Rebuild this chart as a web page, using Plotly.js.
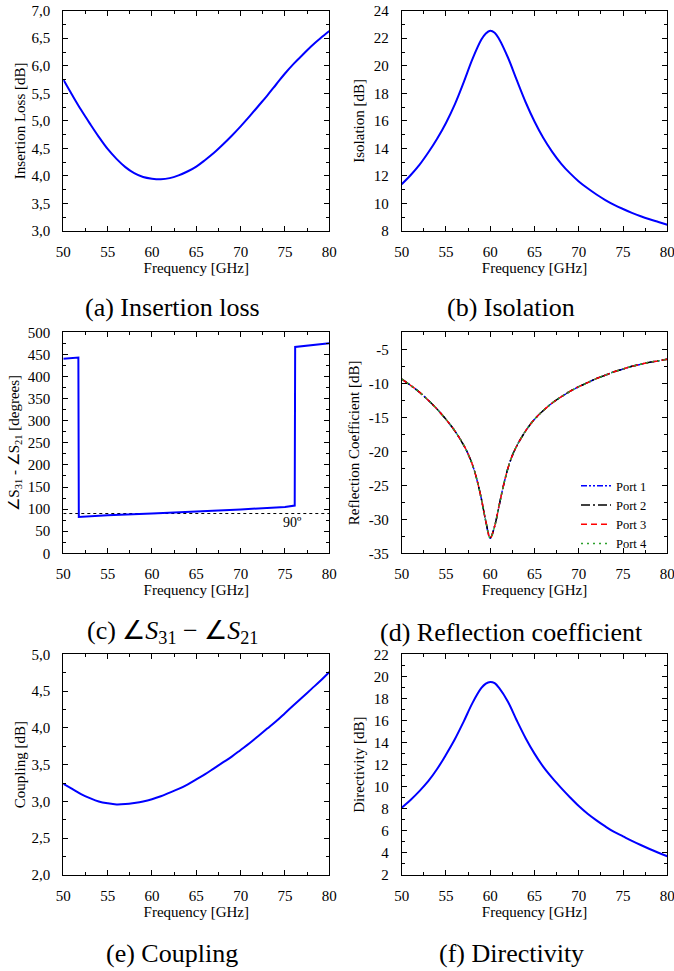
<!DOCTYPE html>
<html>
<head>
<meta charset="utf-8">
<script src="https://cdn.plot.ly/plotly-3.0.1.min.js"></script>
<style>html,body{margin:0;padding:0;background:#fff;}#chart{width:674px;height:971px;}</style>
</head>
<body>
<div id="chart"></div>
<script>
// ---------- data ----------
const freq = [50,51,52,53,54,55,56,57,58,59,60,61,62,63,64,65,66,67,68,69,70,71,72,73,74,75,76,77,78,79,80];
const peakFreq = [50,51,52,53,54,55,56,57,58,59,59.5,60,60.5,61,62,63,64,65,66,67,68,69,70,71,72,73,74,75,76,77,78,79,80];

const insertionLoss = [5.75,5.47,5.20,4.95,4.71,4.49,4.31,4.16,4.05,3.98,3.95,3.94,3.96,4.01,4.08,4.17,4.29,4.42,4.57,4.73,4.90,5.08,5.27,5.46,5.66,5.86,6.04,6.20,6.36,6.50,6.63];

const isolation = [11.4,12.05,12.8,13.7,14.7,15.85,17.2,18.8,20.5,21.9,22.35,22.55,22.4,21.95,20.6,18.95,17.35,15.95,14.75,13.75,12.9,12.2,11.6,11.1,10.65,10.25,9.9,9.6,9.32,9.07,8.85,8.65,8.45];

const angleFreq = [50,51.7,51.75,55,60,65,70,75,76.1,76.15,80];
const angleDiff = [440,443,82,86,90,94,99,105,108,467,475];
const refLineFreq = [50,80];
const refLineDeg = [90,90];

const reflFreq = [50,51,52,53,54,55,56,57,57.5,58,58.5,59,59.5,60,60.5,61,61.5,62,62.5,63,64,65,66,67,68,69,70,71,72,73,74,75,76,77,78,79,80];
const port1 = [-9.4,-10.3,-11.3,-12.5,-13.8,-15.3,-17.0,-19.1,-20.4,-22.0,-24.2,-27.0,-30.3,-32.8,-31.0,-28.0,-25.0,-22.5,-20.6,-19.2,-17.0,-15.3,-14.0,-12.9,-12.0,-11.2,-10.5,-9.9,-9.3,-8.8,-8.3,-7.9,-7.5,-7.2,-6.9,-6.7,-6.45];
const port2 = [-9.4,-10.3,-11.3,-12.5,-13.8,-15.3,-17.0,-19.1,-20.4,-22.0,-24.2,-27.0,-30.3,-32.7,-31.0,-28.0,-25.0,-22.5,-20.6,-19.2,-17.0,-15.3,-14.0,-12.9,-12.0,-11.2,-10.5,-9.9,-9.3,-8.8,-8.3,-7.9,-7.5,-7.2,-6.9,-6.7,-6.45];
const port3 = [-9.4,-10.3,-11.3,-12.5,-13.8,-15.3,-17.0,-19.1,-20.4,-22.0,-24.2,-27.0,-30.3,-32.8,-31.0,-28.0,-25.0,-22.5,-20.6,-19.2,-17.0,-15.3,-14.0,-12.9,-12.0,-11.2,-10.5,-9.9,-9.3,-8.8,-8.3,-7.9,-7.5,-7.2,-6.9,-6.7,-6.45];
const port4 = [-9.4,-10.3,-11.3,-12.5,-13.8,-15.3,-17.0,-19.1,-20.4,-22.0,-24.2,-27.0,-30.3,-32.8,-31.0,-28.0,-25.0,-22.5,-20.6,-19.2,-17.0,-15.3,-14.0,-12.9,-12.0,-11.2,-10.5,-9.9,-9.3,-8.8,-8.3,-7.9,-7.5,-7.2,-6.9,-6.7,-6.45];
const reflTickVals = [-35,-30,-25,-20,-15,-10,-5];
const reflTickText = ['-35','-30','-25','-20','-15','-10','-5'];

const coupling = [3.24,3.17,3.10,3.045,3.00,2.975,2.96,2.965,2.98,3.00,3.03,3.07,3.12,3.17,3.23,3.30,3.37,3.45,3.53,3.61,3.70,3.79,3.89,3.99,4.09,4.20,4.31,4.42,4.53,4.64,4.76];

const directivity = [8.1,8.8,9.6,10.5,11.6,12.9,14.3,15.9,17.6,18.95,19.35,19.5,19.38,18.95,17.7,16.0,14.4,13.0,11.8,10.8,9.9,9.05,8.25,7.55,6.95,6.4,5.9,5.5,5.1,4.72,4.36,4.02,3.7];

const captions = ['(a) Insertion loss','(b) Isolation','(c) ∠<i>S</i><sub>31</sub> − ∠<i>S</i><sub>21</sub>','(d) Reflection coefficient','(e) Coupling','(f) Directivity'];

// ---------- styling ----------
const FONT = 'Liberation Serif';
const W = 674, H = 971;
const colL = [63.3/W, 329.3/W], colR = [401.7/W, 667.3/W];
const rowA = [1-231/H, 1-10.7/H], rowC = [1-553.3/H, 1-332.3/H], rowE = [1-875/H, 1-654.3/H];
const blue = {color:'#0000ff', width:2, shape:'spline', smoothing:1};

function xax(domain, anchor){
  return {domain, anchor, range:[50,80], tick0:50, dtick:5, ticks:'inside', ticklen:5, tickwidth:1, tickcolor:'#000',
    showline:true, linecolor:'#000', linewidth:1, mirror:'ticks', showgrid:false, zeroline:false,
    minor:{ticks:'inside', ticklen:3, tick0:50, dtick:2.5, tickcolor:'#000', showgrid:false},
    ticklabelstandoff:7, ticklabeloverflow:'allow',
    tickfont:{family:FONT, size:15, color:'#000'},
    title:{text:'Frequency [GHz]', font:{family:FONT, size:15, color:'#000'}, standoff:0}};
}
function yax(domain, anchor, range, dtick, mdtick, title, fmt, standoff){
  return {domain, anchor, range, tick0:range[0], dtick, ticks:'inside', ticklen:5, tickwidth:1, tickcolor:'#000',
    showline:true, linecolor:'#000', linewidth:1, mirror:'ticks', showgrid:false, zeroline:false,
    minor:{ticks:'inside', ticklen:3, tick0:range[0], dtick:mdtick, tickcolor:'#000', showgrid:false},
    ticklabelstandoff:9, ticklabeloverflow:'allow',
    tickformat:fmt, tickfont:{family:FONT, size:15, color:'#000'},
    title:{text:title, font:{family:FONT, size:15, color:'#000'}, standoff:standoff}};
}

const traces = [
  {x:freq, y:insertionLoss, xaxis:'x', yaxis:'y', mode:'lines', line:blue, showlegend:false},
  {x:peakFreq, y:isolation, xaxis:'x2', yaxis:'y2', mode:'lines', line:blue, showlegend:false},
  {x:refLineFreq, y:refLineDeg, xaxis:'x3', yaxis:'y3', mode:'lines', line:{color:'#000', width:1, dash:'3px,3px'}, showlegend:false},
  {x:angleFreq, y:angleDiff, xaxis:'x3', yaxis:'y3', mode:'lines', line:{color:'#0000ff', width:2}, showlegend:false},
  {x:reflFreq, y:port1, xaxis:'x4', yaxis:'y4', mode:'lines', name:'Port 1', line:{color:'#0000ff', width:1.5, dash:'6px,2px,2px,2px,2px,2px', shape:'spline'}},
  {x:reflFreq, y:port2, xaxis:'x4', yaxis:'y4', mode:'lines', name:'Port 2', line:{color:'#000000', width:1.5, dash:'9px,3px,2px,3px', shape:'spline'}},
  {x:reflFreq, y:port3, xaxis:'x4', yaxis:'y4', mode:'lines', name:'Port 3', line:{color:'#ff0000', width:1.5, dash:'6px,4px', shape:'spline'}},
  {x:reflFreq, y:port4, xaxis:'x4', yaxis:'y4', mode:'lines', name:'Port 4', line:{color:'#2ca02c', width:1.5, dash:'2px,4px', shape:'spline'}},
  {x:freq, y:coupling, xaxis:'x5', yaxis:'y5', mode:'lines', line:blue, showlegend:false},
  {x:peakFreq, y:directivity, xaxis:'x6', yaxis:'y6', mode:'lines', line:blue, showlegend:false}
];

const y4 = yax(rowC,'x4',[-35,-2.5],5,2.5,'Reflection Coefficient [dB]',null,5);
y4.tickmode = 'array'; y4.tickvals = reflTickVals; y4.ticktext = reflTickText;

const capFont = {family:FONT, size:26, color:'#000'};
function cap(i, x, y){ return {xref:'paper', yref:'paper', x:x/W, y:1-y/H, xanchor:'center', yanchor:'middle', text:captions[i], showarrow:false, font:capFont}; }
const layout = {
  width:W, height:H, autosize:false, margin:{l:0,r:0,t:0,b:0},
  paper_bgcolor:'#fff', plot_bgcolor:'#fff', separators:', ',
  font:{family:FONT, color:'#000'},
  xaxis:xax(colL,'y'), yaxis:yax(rowA,'x',[3,7],0.5,0.25,'Insertion Loss [dB]','.1f',2),
  xaxis2:xax(colR,'y2'), yaxis2:yax(rowA,'x2',[8,24],2,1,'Isolation [dB]',null,5),
  xaxis3:xax(colL,'y3'), yaxis3:yax(rowC,'x3',[0,500],50,25,'∠S<sub>31</sub> - ∠S<sub>21</sub> [degrees]',null,4),
  xaxis4:xax(colR,'y4'), yaxis4:y4,
  xaxis5:xax(colL,'y5'), yaxis5:yax(rowE,'x5',[2,5],0.5,0.25,'Coupling [dB]','.1f',2),
  xaxis6:xax(colR,'y6'), yaxis6:yax(rowE,'x6',[2,22],2,1,'Directivity [dB]',null,5),
  legend:{x:576/W, y:1-471/H, xanchor:'left', yanchor:'top', bgcolor:'rgba(0,0,0,0)', borderwidth:0,
    font:{family:FONT, size:12.5, color:'#000'}, tracegroupgap:0, itemwidth:30},
  annotations:[
    cap(0,172,307), cap(1,511,307), cap(2,172,632), cap(3,511,632), cap(4,172,953), cap(5,511,953),
    {xref:'x3', yref:'y3', x:75.8, y:69, text:'90º', showarrow:false, font:{family:FONT, size:14, color:'#000'}}
  ]
};

Plotly.newPlot('chart', traces, layout, {staticPlot:true, displayModeBar:false});
</script>
</body>
</html>
